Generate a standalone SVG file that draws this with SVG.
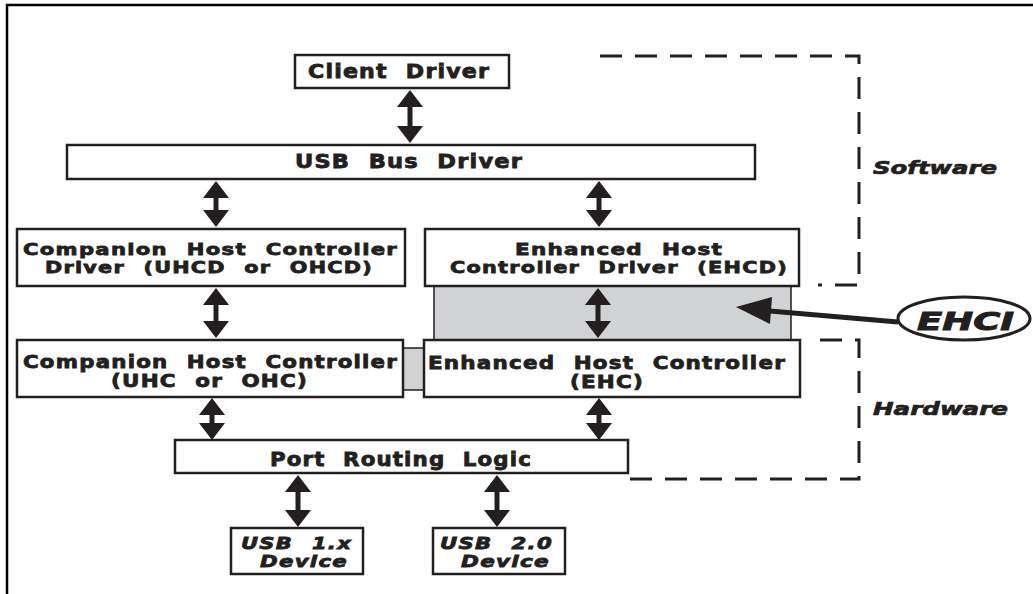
<svg xmlns="http://www.w3.org/2000/svg" width="1033" height="594" viewBox="0 0 1033 594">
  <style>
    .box { fill: #ffffff; stroke: #231f20; stroke-width: 2.5; }
    .iface { fill: #d1d2d4; stroke: #231f20; stroke-width: 1.5; }
    .lbl { font-family: "DejaVu Sans", "Liberation Sans", sans-serif; font-weight: bold; fill: #231f20; stroke: #231f20; stroke-width: 0.8; text-anchor: middle; letter-spacing: 1px; word-spacing: 8px; }
    .big { font-size: 19px; }
    .mid { font-size: 17.5px; }
    .tight { font-size: 16.5px; }
    .dev { font-size: 16.5px; font-style: italic; }
    .side { font-family: "DejaVu Sans", "Liberation Sans", sans-serif; font-weight: bold; font-style: italic; font-size: 18.5px; fill: #231f20; stroke: #231f20; stroke-width: 0.7; }
    .tag { font-size: 25px; stroke-width: 1; }
    .dash { fill: none; stroke: #231f20; stroke-width: 3; stroke-dasharray: 22 13; }
    .shaft { stroke: #231f20; stroke-width: 5; fill: none; }
  </style>
  <defs>
    <marker id="head" viewBox="0 -13 17 26" refX="2" refY="0" markerWidth="17" markerHeight="26" markerUnits="userSpaceOnUse" orient="auto-start-reverse">
      <path d="M0,-13 L17,0 L0,13 z" fill="#231f20"/>
    </marker>
  </defs>

  <!-- frame -->
  <g id="frame">
    <path d="M7,594 V5 H1033" fill="none" stroke="#000" stroke-width="2.5"/>
  </g>

  <!-- software / hardware regions -->
  <g id="regions">
    <path class="dash" d="M600,56 H859 V285 H818"/>
    <path class="dash" d="M820,340 H859 V479 H625"/>
    <text class="side" x="873" y="174" textLength="124" lengthAdjust="spacingAndGlyphs">Software</text>
    <text class="side" x="873" y="415" textLength="135" lengthAdjust="spacingAndGlyphs">Hardware</text>
  </g>

  <!-- EHCI register interface (shaded) -->
  <g id="ehci-interface">
    <rect class="iface" x="434" y="286" width="357" height="54"/>
    <rect class="iface" x="403" y="348" width="21" height="42"/>
  </g>

  <g id="client-driver">
    <rect class="box" x="295" y="55" width="214" height="33"/>
    <text class="lbl big" x="399" y="78" textLength="182" lengthAdjust="spacingAndGlyphs">Client Driver</text>
  </g>

  <g id="usb-bus-driver">
    <rect class="box" x="67" y="145" width="688" height="34"/>
    <text class="lbl big" x="409" y="168" textLength="228" lengthAdjust="spacingAndGlyphs">USB Bus Driver</text>
  </g>

  <g id="companion-hcd">
    <rect class="box" x="17" y="229" width="388" height="57"/>
    <text class="lbl tight" x="210.5" y="255" textLength="375" lengthAdjust="spacingAndGlyphs">Companion Host Controller</text>
    <text class="lbl tight" x="209" y="273" textLength="328" lengthAdjust="spacingAndGlyphs">Driver (UHCD or OHCD)</text>
  </g>

  <g id="enhanced-hcd">
    <rect class="box" x="425" y="229" width="374" height="57"/>
    <text class="lbl tight" x="619" y="255" textLength="208" lengthAdjust="spacingAndGlyphs">Enhanced Host</text>
    <text class="lbl tight" x="619" y="273" textLength="338" lengthAdjust="spacingAndGlyphs">Controller Driver (EHCD)</text>
  </g>

  <g id="companion-hc">
    <rect class="box" x="17" y="340" width="386" height="57"/>
    <text class="lbl mid" x="210.5" y="368" textLength="375" lengthAdjust="spacingAndGlyphs">Companion Host Controller</text>
    <text class="lbl mid" x="209.5" y="387" textLength="197" lengthAdjust="spacingAndGlyphs">(UHC or OHC)</text>
  </g>

  <g id="enhanced-hc">
    <rect class="box" x="424" y="340" width="376" height="57"/>
    <text class="lbl mid" x="607" y="369" textLength="358" lengthAdjust="spacingAndGlyphs">Enhanced Host Controller</text>
    <text class="lbl mid" x="607" y="388" textLength="74" lengthAdjust="spacingAndGlyphs">(EHC)</text>
  </g>

  <g id="port-routing-logic">
    <rect class="box" x="175" y="440" width="453" height="33"/>
    <text class="lbl big" x="401" y="466" textLength="262" lengthAdjust="spacingAndGlyphs">Port Routing Logic</text>
  </g>

  <g id="usb1-device">
    <rect class="box" x="231" y="528" width="132" height="46"/>
    <text class="lbl dev" x="296.5" y="549" textLength="111" lengthAdjust="spacingAndGlyphs">USB 1.x</text>
    <text class="lbl dev" x="304" y="567" textLength="88" lengthAdjust="spacingAndGlyphs">Device</text>
  </g>

  <g id="usb2-device">
    <rect class="box" x="433" y="528" width="132" height="46"/>
    <text class="lbl dev" x="496.5" y="549" textLength="113" lengthAdjust="spacingAndGlyphs">USB 2.0</text>
    <text class="lbl dev" x="505.5" y="567" textLength="89" lengthAdjust="spacingAndGlyphs">Device</text>
  </g>

  <g id="ehci-label">
    <ellipse cx="964" cy="318.5" rx="66" ry="21.5" fill="#ffffff" stroke="#231f20" stroke-width="3"/>
    <text class="side tag" x="917" y="330" textLength="97" lengthAdjust="spacingAndGlyphs">EHCI</text>
  </g>

  <!-- connectors -->
  <g id="connectors">
    <line class="shaft" x1="410" y1="105" x2="410" y2="128" marker-start="url(#head)" marker-end="url(#head)"/>
    <line class="shaft" x1="216" y1="196" x2="216" y2="212" marker-start="url(#head)" marker-end="url(#head)"/>
    <line class="shaft" x1="599" y1="196" x2="599" y2="212" marker-start="url(#head)" marker-end="url(#head)"/>
    <line class="shaft" x1="216" y1="303" x2="216" y2="323" marker-start="url(#head)" marker-end="url(#head)"/>
    <line class="shaft" x1="598" y1="303" x2="598" y2="323" marker-start="url(#head)" marker-end="url(#head)"/>
    <line class="shaft" x1="212" y1="413" x2="212" y2="425" marker-start="url(#head)" marker-end="url(#head)"/>
    <line class="shaft" x1="599" y1="413" x2="599" y2="425" marker-start="url(#head)" marker-end="url(#head)"/>
    <line class="shaft" x1="298" y1="490" x2="298" y2="512" marker-start="url(#head)" marker-end="url(#head)"/>
    <line class="shaft" x1="497" y1="490" x2="497" y2="512" marker-start="url(#head)" marker-end="url(#head)"/>
    <!-- EHCI pointer -->
    <line x1="770" y1="311" x2="898" y2="322" stroke="#231f20" stroke-width="5"/>
    <path d="M736,307 L772,297 L770,324 z" fill="#231f20"/>
  </g>
</svg>
